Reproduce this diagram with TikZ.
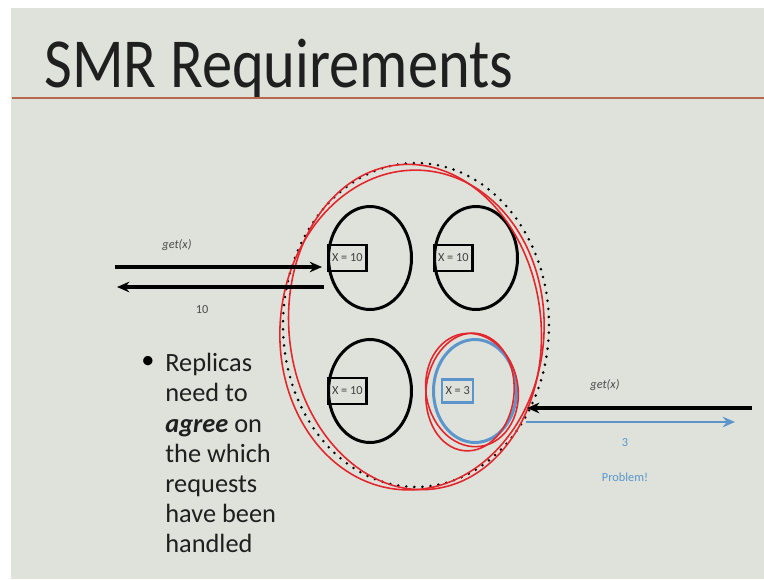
\documentclass[tikz,border=0pt]{standalone}
\usepackage{fontspec}
\setmainfont{Carlito}
\usetikzlibrary{arrows.meta,positioning,shapes.geometric}
\definecolor{slidebg}{HTML}{DEE2DB}
\definecolor{ppblue}{HTML}{5B95CC}
\definecolor{penred}{HTML}{E3262B}
\definecolor{rulecol}{HTML}{B8674F}

\begin{document}
\begin{tikzpicture}[x=0.02cm,y=-0.02cm,>={Stealth[length=7pt,width=6pt]},
  every node/.style={font=\small},
  replica/.style={draw,line width=1.7pt,ellipse,minimum width=1.66cm,minimum height=2.06cm,inner sep=0pt},
  valbox/.style={draw,line width=1.5pt,anchor=west,minimum width=0.76cm,minimum height=0.52cm,inner sep=0pt,font=\fontsize{7}{8}\selectfont,text=black!75},
  msg/.style={font=\fontsize{7}{8}\selectfont\itshape,text=black!70},
  ans/.style={font=\fontsize{7}{8}\selectfont,text=black!70},
  arr/.style={line width=2pt},
  pen/.style={penred,line width=0.9pt}]
\fill[white] (0,0) rectangle (764,579);
\fill[slidebg] (11,8) rectangle (764,579);
\useasboundingbox (0,0) rectangle (764,579);

% title
\node[anchor=base west,inner sep=0pt,font=\fontsize{40}{42}\selectfont,text=black!88] (title) at (44,87) {\scalebox{0.86}[1]{SMR Requirements}};
\draw[rulecol,line width=1.3pt] (12,98) -- (764,98);

% replicas
\node[replica] (r1) at (370,258) {};
\node[replica] (r2) at (476,258) {};
\node[replica] (r3) at (370,391) {};
\node[replica,ppblue] (r4) at (475,391) {};
\node[valbox] (v1) at (r1.west) {X = 10};
\node[valbox] (v2) at (r2.west) {X = 10};
\node[valbox] (v3) at (r3.west) {X = 10};
\node[valbox,ppblue,text=black!75,line width=1.3pt,minimum width=0.62cm,minimum height=0.46cm,right=0.18cm of r4.west] (v4) {X = 3};

% group of replicas
\node[ellipse,minimum width=5.32cm,minimum height=6.48cm,line width=1.6pt,dash pattern=on 0pt off 4.6pt,line cap=round,draw] (grp) at (416,325) {};

% pen marks
\draw[pen] (415,327) ellipse [x radius=126, y radius=163, rotate=6];
\draw[pen] (412,330) ellipse [x radius=132, y radius=160, rotate=-4];
\draw[pen] (472,390) ellipse [x radius=46, y radius=57, rotate=10];
\draw[pen] (470,392) ellipse [x radius=44, y radius=59, rotate=-6];

% client on the left
\coordinate (c1) at (115,267);
\coordinate (c2) at (117,287);
\draw[->,arr,shorten >=0.1cm] (c1) -- (r1.west |- c1);
\draw[->,arr] (r1.west |- c2) ++(-3,0) -- (c2);
\node[msg] (g1) at (177,245) {get(x)};
\node[ans] (a1) at (202,310) {10};

% client on the right
\coordinate (d1) at (752,408);
\coordinate (d2) at (527,408);
\coordinate (e1) at (526,422);
\coordinate (e2) at (735,422);
\draw[->,arr] (d1) -- (d2);
\draw[->,arr,ppblue,line width=1.6pt] (e1) -- (e2);
\node[msg] (g2) at (605,385) {get(x)};
\node[ans,ppblue] (a2) at (625,443) {3};
\node[ans,ppblue] (prob) at (625,477) {Problem!};

% bullet
\node[font=\fontsize{15}{17}\selectfont] (bul) at (148,362) {\textbullet};
\node[anchor=north west,align=left,inner sep=0pt,font=\fontsize{15}{17.2}\selectfont,text=black!88] (note) at (165,353)
  {Replicas\\need to\\\textbf{\textit{agree}} on\\the which\\requests\\have been\\handled};
\end{tikzpicture}
\end{document}
